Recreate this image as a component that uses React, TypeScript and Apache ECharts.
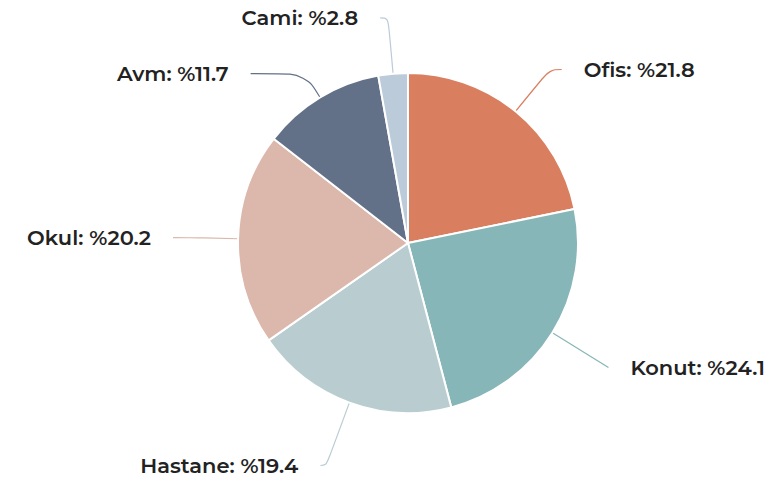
import React, { useEffect, useRef } from "react";
import * as echarts from "echarts";

const categories = ["Ofis", "Konut", "Hastane", "Okul", "Avm", "Cami"];
const values = [21.8, 24.1, 19.4, 20.2, 11.7, 2.8];
const colors = ["#d97f5f", "#86b6b8", "#b9cdd1", "#dbb8ab", "#637188", "#bccbd9"];

const lineOverrides: Record<string, { length: number; length2: number }> = {
  Ofis: { length: 54, length2: 12 },
  Konut: { length: 66, length2: 0 },
  Hastane: { length: 67, length2: 6 },
  Avm: { length: 28, length2: 55 },
  Okul: { length: 40, length2: 25 },
};

export default function App() {
  const ref = useRef<HTMLDivElement>(null);
  useEffect(() => {
    document.body.style.margin = "0";
    const chart = echarts.init(ref.current!, null, { renderer: "svg" });
    chart.setOption({
      animation: false,
      backgroundColor: "#ffffff",
      series: [
        {
          type: "pie",
          center: [408, 243],
          radius: [0, 170],
          startAngle: 90,
          clockwise: true,
          avoidLabelOverlap: false,
          data: categories.map((c, i) => ({
            name: c,
            value: values[i],
            itemStyle: { color: colors[i] },
            ...(lineOverrides[c] ? { labelLine: lineOverrides[c] } : {}),
          })),
          itemStyle: { borderColor: "#ffffff", borderWidth: 2 },
          label: {
            formatter: (p: any) => `${p.name}: %${p.value.toFixed(1)}`,
            color: "#222222",
            fontFamily: "Montserrat, 'Open Sans', sans-serif",
            fontWeight: 600,
            fontSize: 21,
            distanceToLabelLine: 22,
          },
          labelLine: {
            show: true,
            length: 56,
            length2: 8,
            smooth: 0.4,
            lineStyle: { width: 1.2 },
          },
        },
      ],
    });
    return () => chart.dispose();
  }, []);
  return <div ref={ref} style={{ width: 779, height: 480 }} />;
}
